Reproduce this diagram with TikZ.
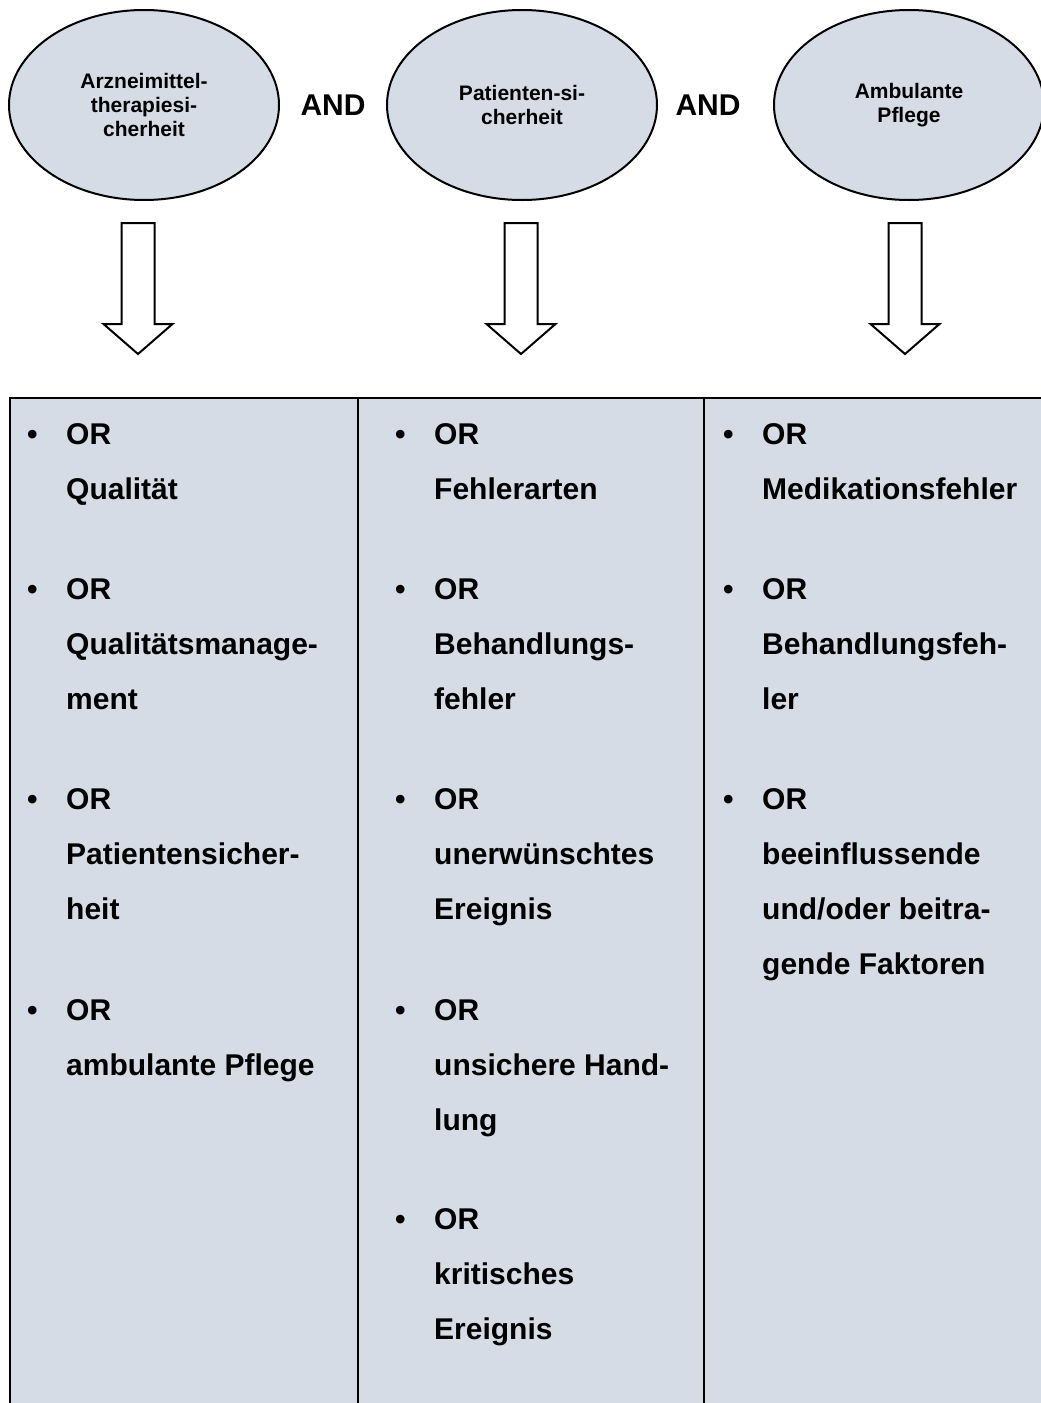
\documentclass[tikz,border=0pt]{standalone}
\usepackage{fontspec}
\setmainfont{Liberation Sans}
\usetikzlibrary{shapes.geometric,positioning}
\definecolor{cellfill}{HTML}{D6DCE5}
\tikzset{%
  topic/.style={ellipse,draw,line width=2pt,fill=cellfill,
    minimum width=270pt,minimum height=190pt,inner sep=0pt,
    align=center,font=\fontsize{21}{24}\selectfont\bfseries},
  joiner/.style={font=\fontsize{30}{36}\selectfont\bfseries},
  term/.style={anchor=base west,align=left,inner sep=0pt,
    font=\fontsize{30}{55}\selectfont\bfseries},
  bullet/.style={anchor=base west,inner sep=0pt,
    font=\fontsize{30}{36}\selectfont\bfseries},
  blockarrow/.style={draw,line width=2pt,fill=white},
  rule/.style={line width=2pt}
}

\begin{document}
\begin{tikzpicture}[x=1pt,y=-1pt]
  \useasboundingbox (0,0) rectangle (1041,1403);

  % search terms
  \node [topic] (amts) at (144,105) {Arzneimittel-\\therapiesi-\\cherheit};
  \node [topic] (ps)   at (522,105) {Patienten-si-\\cherheit};
  \node [topic] (amb)  at (909,105) {Ambulante\\Pflege};
  \node [joiner] (and1) at (333,105) {AND};
  \node [joiner] (and2) at (708,105) {AND};

  % block arrows
  \foreach \x in {138,521,905}
    \draw [blockarrow] (\x-16.5,223) -- (\x+16.5,223) -- (\x+16.5,324)
      -- (\x+34.5,324) -- (\x,354) -- (\x-34.5,324) -- (\x-16.5,324) -- cycle;

  % table
  \fill [cellfill] (10,398) rectangle (1060,1420);
  \draw [rule] (10,1420) -- (10,398) -- (1060,398);
  \draw [rule] (358,398) -- (358,1420);
  \draw [rule] (704,398) -- (704,1420);

  % column 1 (terms sit on the baseline of their last line)
  \node [bullet] (b11) at (27,444)  {•};
  \node [term]   (t11) at (66,499)  {OR\\Qualität};
  \node [bullet] (b12) at (27,599)  {•};
  \node [term]   (t12) at (66,709)  {OR\\Qualitätsmanage-\\ment};
  \node [bullet] (b13) at (27,809)  {•};
  \node [term]   (t13) at (66,919)  {OR\\Patientensicher-\\heit};
  \node [bullet] (b14) at (27,1020) {•};
  \node [term]   (t14) at (66,1075) {OR\\ambulante Pflege};

  % column 2
  \node [bullet] (b21) at (395,444)  {•};
  \node [term]   (t21) at (434,499)  {OR\\Fehlerarten};
  \node [bullet] (b22) at (395,599)  {•};
  \node [term]   (t22) at (434,709)  {OR\\Behandlungs-\\fehler};
  \node [bullet] (b23) at (395,809)  {•};
  \node [term]   (t23) at (434,919)  {OR\\unerwünschtes\\Ereignis};
  \node [bullet] (b24) at (395,1020) {•};
  \node [term]   (t24) at (434,1130) {OR\\unsichere Hand-\\lung};
  \node [bullet] (b25) at (395,1229) {•};
  \node [term]   (t25) at (434,1339) {OR\\kritisches\\Ereignis};

  % column 3
  \node [bullet] (b31) at (723,444) {•};
  \node [term]   (t31) at (762,499) {OR\\Medikationsfehler};
  \node [bullet] (b32) at (723,599) {•};
  \node [term]   (t32) at (762,709) {OR\\Behandlungsfeh-\\ler};
  \node [bullet] (b33) at (723,809) {•};
  \node [term]   (t33) at (762,974) {OR\\beeinflussende\\und/oder beitra-\\gende Faktoren};
\end{tikzpicture}
\end{document}
